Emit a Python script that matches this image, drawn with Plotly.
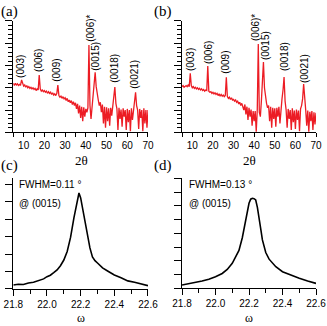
import numpy as np
import plotly.graph_objs as go

# XRD 2theta scans, 0.5 deg steps from 5 to 70 (intensity in arbitrary units, 0-100)
twotheta = np.arange(131) * 0.5 + 5

xrd_a = [44, 42, 44, 42.5, 43.5, 42, 43, 42.5, 47, 43,
         41.5, 42.5, 40.5, 42, 40, 41, 39.5, 40.5, 39, 40,
         38.5, 39.5, 37.5, 39, 38, 51.5, 39, 37, 38, 36.5,
         37.5, 36, 37, 35, 36.5, 35, 36, 34, 35.5, 33.5,
         34.5, 33, 35, 42.5, 33, 31.5, 32.5, 30.5, 32, 30,
         31, 28.5, 30.5, 27.5, 29, 26.5, 28.5, 25, 27.5, 24,
         26.5, 21, 25.5, 17, 24, 13, 23, 10, 22.5, 14,
         21, 18, 22, 78.4, 24, 12, 22, 30, 42, 54,
         41, 33, 29, 24, 27, 18, 25, 8, 23, 4,
         22.5, 10, 21.5, 6, 22, 15, 24, 28, 40.7, 26,
         21, 2, 22, 12, 20.5, 5, 21.5, 14, 20, 2,
         21, 9, 20, 1, 21.5, 11, 22, 27, 36, 24,
         20, 3, 21, 13, 20, 1, 21.5, 8, 20, 4,
         20]

xrd_b = [41, 42, 40.5, 41.5, 42, 41, 42.5, 41, 53, 42,
         40, 41, 39.5, 40.5, 39, 40, 38.5, 39.5, 38, 39,
         37.5, 38.5, 37, 38, 37.5, 59.6, 37, 36, 36.5, 35,
         36, 34.5, 35.5, 34, 35, 33, 34.5, 32.5, 34, 32.5,
         33.5, 32, 33, 49.4, 32, 30.5, 31.5, 29.5, 31, 29,
         29.5, 28, 29, 27, 28, 25.5, 27, 24, 26, 23,
         20, 25, 16, 23, 11, 22, 14, 20.5, 6, 19,
         10, 19, 0.5, 20, 79.3, 18, 14, 28, 42, 63.2,
         40, 30, 26, 22, 24, 10, 23, 4, 22, 12,
         21.5, 5, 22, 14, 23, 8, 24, 30, 38, 49.7,
         28, 20, 4, 21, 12, 20, 2, 21.5, 9, 19.5,
         3, 20.5, 11, 19.5, 1, 21, 24, 30, 43.4, 25,
         20, 6, 19.5, 0.5, 18.5, 10, 19, 2, 18, 7,
         17.5]

peak_names = ['(003)', '(006)', '(009)', '(006)*', '(0015)', '(0018)', '(0021)']

# rocking curves around (0015)
omega_c = [21.80, 21.83, 21.86, 21.89, 21.92, 21.95, 21.98, 22.00, 22.02, 22.04,
           22.06, 22.08, 22.10, 22.12, 22.14, 22.16, 22.17, 22.18, 22.19, 22.20,
           22.21, 22.22, 22.23, 22.24, 22.255, 22.27, 22.285, 22.30, 22.33, 22.36,
           22.40, 22.44, 22.48, 22.52, 22.56, 22.60]
rock_c = [3.6, 4.3, 4.0, 5.4, 6.0, 7.6, 9.1, 11.1, 12.4, 14.7,
          17.2, 21.0, 26.1, 33.8, 46.5, 64.0, 72.5, 80.2, 86.5, 82.0,
          74.0, 64.9, 55.5, 46.8, 37.0, 28.8, 25.5, 23.4, 19.0, 16.2,
          12.6, 10.2, 7.3, 6.0, 4.4, 3.0]

omega_d = [21.80, 21.84, 21.88, 21.92, 21.96, 22.00, 22.04, 22.07, 22.10, 22.12,
           22.14, 22.16, 22.18, 22.19, 22.20, 22.21, 22.22, 22.23, 22.24, 22.25,
           22.26, 22.27, 22.28, 22.30, 22.32, 22.34, 22.36, 22.40, 22.45, 22.50,
           22.55, 22.60]
rock_d = [3.0, 4.0, 5.2, 6.6, 8.3, 10.5, 13.5, 17.2, 22.7, 28.0,
          34.5, 46.0, 62.0, 70.5, 77.3, 81.0, 81.8, 81.5, 80.3, 73.5,
          65.0, 54.0, 44.0, 32.5, 26.5, 22.5, 19.6, 15.1, 11.8, 9.1,
          6.6, 4.5]

fwhm_c = 'FWHM=0.11 °'
fwhm_d = 'FWHM=0.13 °'

red = '#ec1c24'
tickfont = dict(family='Liberation Sans Narrow, Arial Narrow, Liberation Sans, Arial', size=10, color='black')
serif = 'Liberation Serif, Times New Roman, serif'

data = [go.Scatter(x=twotheta, y=xrd_a, mode='lines', line=dict(color=red, width=1.3), xaxis='x', yaxis='y'),
        go.Scatter(x=twotheta, y=xrd_b, mode='lines', line=dict(color=red, width=1.3), xaxis='x2', yaxis='y2'),
        go.Scatter(x=omega_c, y=rock_c, mode='lines', line=dict(color='black', width=1.6), xaxis='x3', yaxis='y3'),
        go.Scatter(x=omega_d, y=rock_d, mode='lines', line=dict(color='black', width=1.6), xaxis='x4', yaxis='y4')]


def xax(dom, anchor, rng, dtick, mdtick, fmt, ticklen, mticklen):
    return dict(domain=dom, anchor=anchor, range=rng, dtick=dtick, tickformat=fmt, showline=True,
                linecolor='black', linewidth=1, ticks='outside', ticklen=ticklen, tickcolor='black',
                tickwidth=1, minor=dict(dtick=mdtick, ticks='outside', ticklen=mticklen, tickcolor='black'),
                showgrid=False, zeroline=False, tickfont=tickfont, automargin=False)


def yax(dom, anchor, dtick, mdtick, ticklen=7):
    d = dict(domain=dom, anchor=anchor, range=[0, 100], dtick=dtick, tick0=0, showline=True,
             linecolor='black', linewidth=1, ticks='outside', ticklen=ticklen, tickcolor='black',
             showticklabels=False, showgrid=False, zeroline=False, automargin=False)
    if mdtick:
        d['minor'] = dict(dtick=mdtick, ticks='outside', ticklen=4, tickcolor='black')
    return d


top = [0.5942, 0.9356]
left = [0.0407, 0.4526]
right = [0.5566, 0.9664]

annotations = []
# peak labels (x in 2theta, y in intensity units)
lab_a = [(8.7, 59.6), (17.4, 65), (26.0, 56), (41.9, 93.7), (44.8, 68.6), (54.0, 57.8), (63.6, 52.4)]
lab_b = [(8.9, 64.9), (17.6, 72.1), (26.3, 63.2), (40.4, 94.6), (45.3, 77.5), (54.5, 67.6), (64.7, 56.9)]
for (xa, ya), (xb, yb), name in zip(lab_a, lab_b, peak_names):
    for xx, yy, ax in [(xa, ya, ''), (xb, yb, '2')]:
        annotations.append(dict(x=xx, y=yy, xref='x' + ax, yref='y' + ax, text=name, textangle=-90,
                                showarrow=False, xanchor='center', yanchor='middle',
                                font=dict(family='Liberation Sans, Arial', size=10, color='black')))

for txt, px, py in [('(a)', 9, 11), ('(b)', 163, 11), ('(c)', 9, 166), ('(d)', 163, 166)]:
    annotations.append(dict(x=px / 327, y=1 - py / 326, xref='paper', yref='paper', text=txt,
                            showarrow=False, xanchor='center', yanchor='middle',
                            font=dict(family=serif, size=15, color='black')))

# axis titles
for txt, px in [('2θ', 81), ('2θ', 249)]:
    annotations.append(dict(x=px / 327, y=1 - 160 / 326, xref='paper', yref='paper', text=txt,
                            showarrow=False, xanchor='center', yanchor='middle',
                            font=dict(family=serif, size=13, color='black')))
for px in [81, 249]:
    annotations.append(dict(x=px / 327, y=1 - 318 / 326, xref='paper', yref='paper', text='ω',
                            showarrow=False, xanchor='center', yanchor='middle',
                            font=dict(family=serif, size=12, color='black')))

for txt, px in [(fwhm_c, 17), (fwhm_d, 187)]:
    annotations.append(dict(x=px / 327, y=1 - 184 / 326, xref='paper', yref='paper', text=txt,
                            showarrow=False, xanchor='left', yanchor='middle', font=tickfont))
    annotations.append(dict(x=px / 327, y=1 - 203 / 326, xref='paper', yref='paper', text='@ (0015)',
                            showarrow=False, xanchor='left', yanchor='middle', font=tickfont))

layout = go.Layout(width=327, height=326, margin=dict(l=0, r=0, t=0, b=0),
                   paper_bgcolor='white', plot_bgcolor='white', showlegend=False,
                   xaxis=xax(left, 'y', [5, 70], 10, 5, 'd', 4, 4),
                   yaxis=yax(top, 'x', 20, 4),
                   xaxis2=xax(right, 'y2', [5, 70], 10, 5, 'd', 4, 4),
                   yaxis2=yax(top, 'x2', 20, 4),
                   xaxis3=xax(left, 'y3', [21.8, 22.6], 0.2, 0.1, '.1f', 6, 4),
                   yaxis3=yax([0.1135, 0.454], 'x3', 15.7, None),
                   xaxis4=xax(right, 'y4', [21.8, 22.6], 0.2, 0.1, '.1f', 6, 4),
                   yaxis4=yax([0.1156, 0.4531], 'x4', 12.5, None),
                   annotations=annotations)

fig = go.Figure(data, layout)
# drop the default page margin so the 327x326 figure fills the window exactly, and hide the modebar
fig.write_html('out.html', config={'displayModeBar': False},
               post_script="document.body.style.margin='0';document.body.style.overflow='hidden';")
